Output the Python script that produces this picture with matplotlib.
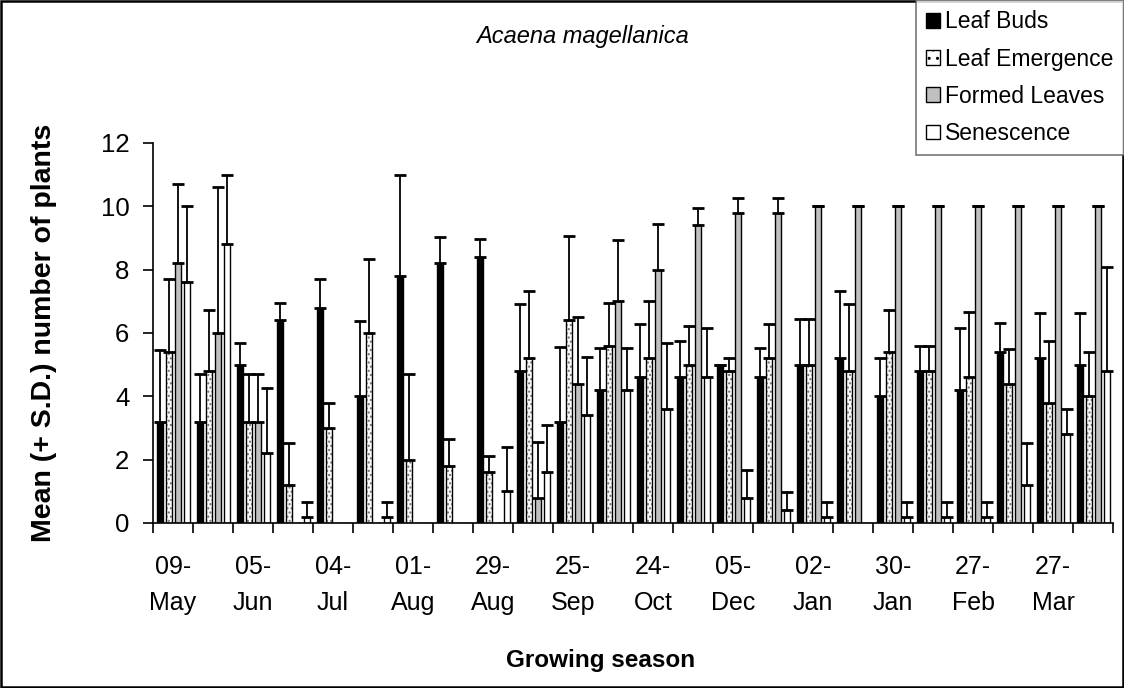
import numpy as np
import matplotlib
matplotlib.use('Agg')
import matplotlib.pyplot as plt
from matplotlib.patches import Patch, Rectangle

plt.rcParams['font.family'] = ['Liberation Sans', 'DejaVu Sans']

# sampling dates (two groups per label)
tick_labels = ['09-\nMay', '05-\nJun', '04-\nJul', '01-\nAug', '29-\nAug', '25-\nSep',
               '24-\nOct', '05-\nDec', '02-\nJan', '30-\nJan', '27-\nFeb', '27-\nMar']
series_names = ['Leaf Buds', 'Leaf Emergence', 'Formed Leaves', 'Senescence']

buds = [3.2, 3.2, 5.0, 6.4, 6.8, 4.0, 7.8, 8.2, 8.4, 4.8, 3.2, 4.2,
        4.6, 4.6, 5.0, 4.6, 5.0, 5.2, 4.0, 4.8, 4.2, 5.4, 5.2, 5.0]
buds_sd = [2.26, 1.5, 0.7, 0.56, 0.92, 2.38, 3.2, 0.84, 0.57, 2.13, 2.35, 1.32,
           1.67, 1.15, 0.0, 0.92, 1.44, 2.13, 1.22, 0.8, 1.95, 0.93, 1.44, 1.62]

emerg = [5.4, 4.8, 3.2, 1.2, 3.0, 6.0, 2.0, 1.8, 1.6, 5.2, 6.4, 5.6,
         5.2, 5.0, 4.8, 5.2, 5.0, 4.8, 5.4, 4.8, 4.6, 4.4, 3.8, 4.0]
emerg_sd = [2.32, 1.93, 1.5, 1.32, 0.8, 2.35, 2.7, 0.85, 0.52, 2.13, 2.65, 1.36,
            1.8, 1.22, 0.4, 1.1, 1.44, 2.13, 1.33, 0.8, 2.06, 1.1, 1.95, 1.4]

formed = [8.2, 6.0, 3.2, 0, 0, 0, 0, 0, 0, 0.8, 4.4, 7.0,
          8.0, 9.4, 9.8, 9.8, 10, 10, 10, 10, 10, 10, 10, 10]
formed_sd = [2.52, 4.6, 1.5, 0, 0, 0, 0, 0, 0, 1.77, 2.09, 1.94,
             1.44, 0.56, 0.45, 0.45, 0, 0, 0, 0, 0, 0, 0, 0]

senes = [7.6, 8.8, 2.2, 0.2, 0, 0.2, 0, 0, 1.0, 1.6, 3.4, 4.2,
         3.6, 4.6, 0.8, 0.4, 0.2, 0, 0.2, 0.2, 0.2, 1.2, 2.8, 4.8]
senes_sd = [2.41, 2.2, 2.05, 0.45, 0, 0.45, 0, 0, 1.41, 1.5, 1.85, 1.32,
            2.1, 1.55, 0.86, 0.57, 0.45, 0, 0.45, 0.45, 0.45, 1.32, 0.81, 3.3]

means = [buds, emerg, formed, senes]
sds = [buds_sd, emerg_sd, formed_sd, senes_sd]
faces = ['black', 'white', '#c0c0c0', 'white']
hatches = [None, '....', None, None]

fig = plt.figure(figsize=(11.24, 6.88), dpi=100)
ax = fig.add_axes([153/1124, 1-523/688, 960/1124, 380/688])

n = len(buds)
x = np.arange(n) + 0.5
pitch = 0.225
width = 0.15
for k in range(4):
    m = np.array(means[k], dtype=float)
    s = np.array(sds[k], dtype=float)
    xs = x + (k - 1.5) * pitch
    if hatches[k]:
        # dots in grey, outline in black
        ax.bar(xs, m, width, color='white', edgecolor='#707070', hatch=hatches[k], lw=0, zorder=2)
        ax.bar(xs, m, width, fill=False, edgecolor='black', lw=1, zorder=3)
    else:
        ax.bar(xs, m, width, color=faces[k], edgecolor='black', lw=1, zorder=2)
    ok = m > 0
    ax.errorbar(xs[ok], m[ok], yerr=[np.zeros(ok.sum()), s[ok]], fmt='none',
                ecolor='black', elinewidth=1.3, capsize=4.5, capthick=2, zorder=4)

ax.set_xlim(0, n)
ax.set_ylim(0, 12)
ax.set_yticks(np.arange(0, 13, 2))
ax.set_xticks(np.arange(0, n + 1))
ax.set_xticklabels([])
ax.set_xticks(np.arange(0, n, 2) + 0.5, minor=True)
ax.set_xticklabels(tick_labels, minor=True, fontsize=18, linespacing=1.65)
ax.tick_params(axis='x', which='major', length=7, width=1.2, direction='out')
ax.tick_params(axis='x', which='minor', length=0, pad=23)
ax.tick_params(axis='y', length=7, width=1.2, direction='out', labelsize=18.5, pad=10)
for side in ['top', 'right']:
    ax.spines[side].set_visible(False)
for side in ['left', 'bottom']:
    ax.spines[side].set_linewidth(1.2)

fig.text(583/1124, 1-37/688, 'Acaena magellanica', fontsize=17, style='italic',
         ha='center', va='center')
fig.text(44/1124, 1-333/688, 'Mean (+ S.D.) number of plants', fontsize=20.5,
         fontweight='bold', rotation=90, ha='center', va='center')
fig.text(601/1124, 1-661/688, 'Growing season', fontsize=17.5, fontweight='bold',
         ha='center', va='center')

handles = [Patch(facecolor='black', edgecolor='black'),
           Patch(facecolor='white', edgecolor='black', hatch='..'),
           Patch(facecolor='#c0c0c0', edgecolor='black'),
           Patch(facecolor='white', edgecolor='black')]
leg = fig.legend(handles, series_names, loc='upper right', bbox_to_anchor=(1.0, 1.0),
                 fontsize=16.5, frameon=True, fancybox=False, borderpad=0.45,
                 handlelength=0.6, handleheight=0.6, handletextpad=0.25,
                 labelspacing=0.62, borderaxespad=0)
leg.get_frame().set_edgecolor('#555555')
leg.get_frame().set_linewidth(1.2)

fig.patches.append(Rectangle((0.001, 0.001), 0.998, 0.997, transform=fig.transFigure,
                             fill=False, edgecolor='black', lw=1.8))

fig.savefig('out.png', dpi=100)
